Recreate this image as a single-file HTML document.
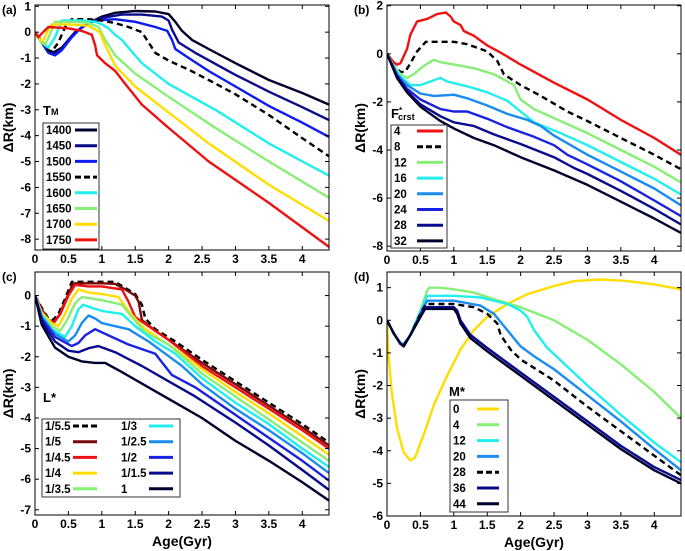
<!DOCTYPE html>
<html><head><meta charset="utf-8"><style>
body{margin:0;background:#fff;}
svg{display:block;font-family:"Liberation Sans",Arial,sans-serif;font-weight:bold;}
</style></head><body>
<svg id="fig" width="685" height="551" viewBox="0 0 685 551"></svg>
<script>
// ---------- Panel (a): T_M ----------
const aLabels = ["1400","1450","1500","1550","1600","1650","1700","1750"];
const aColors = ["#00002e","#0a0a8c","#0a1cf0","#000","#22eeee","#88ee77","#ffdd00","#ee1111"];
const a1400 = [[0,0],[0.1,-0.35],[0.2,-0.7],[0.28,-0.78],[0.4,-0.6],[0.5,-0.3],[0.6,0],[0.8,0.35],[1.0,0.6],[1.2,0.75],[1.5,0.82],[1.8,0.8],[2.0,0.7],[2.1,0.4],[2.2,0.05],[2.35,-0.3],[2.6,-0.65],[3.0,-1.2],[3.5,-1.85],[4.0,-2.35],[4.4,-2.8]];
const a1450 = [[0,0],[0.1,-0.4],[0.2,-0.75],[0.28,-0.85],[0.4,-0.65],[0.5,-0.3],[0.6,0],[0.8,0.35],[1.0,0.55],[1.3,0.68],[1.6,0.68],[1.9,0.6],[2.0,0.45],[2.05,0.1],[2.15,-0.4],[2.4,-0.8],[3.0,-1.65],[3.5,-2.3],[4.0,-2.9],[4.4,-3.4]];
const a1500 = [[0,0],[0.1,-0.4],[0.2,-0.8],[0.3,-0.9],[0.4,-0.7],[0.55,-0.2],[0.7,0.2],[0.9,0.45],[1.2,0.5],[1.5,0.4],[1.8,0.2],[1.98,0.05],[2.05,-0.3],[2.1,-0.65],[2.3,-1.0],[2.6,-1.5],[3.0,-2.1],[3.5,-2.85],[4.0,-3.5],[4.4,-4.05]];
const a1550 = [[0,0],[0.1,-0.35],[0.2,-0.7],[0.25,-0.75],[0.35,-0.4],[0.45,0.2],[0.55,0.5],[0.8,0.5],[1.0,0.45],[1.2,0.35],[1.4,0.2],[1.6,0.0],[1.7,-0.4],[1.8,-0.8],[2.0,-1.1],[2.3,-1.45],[2.6,-1.85],[3.0,-2.4],[3.5,-3.2],[4.0,-4.1],[4.4,-4.8]];
const a1600 = [[0,0],[0.1,-0.4],[0.2,-0.6],[0.3,-0.2],[0.4,0.45],[0.7,0.45],[0.9,0.4],[1.0,0.3],[1.1,0.15],[1.2,-0.1],[1.3,-0.3],[1.4,-0.6],[1.6,-1.2],[2.0,-2.0],[2.7,-3.0],[3.5,-4.3],[4.4,-5.55]];
const a1650 = [[0,0],[0.08,-0.35],[0.15,-0.5],[0.22,-0.1],[0.3,0.4],[0.6,0.4],[0.8,0.35],[0.95,0.2],[1.05,-0.3],[1.2,-0.9],[1.5,-1.6],[2.0,-2.5],[2.7,-3.7],[3.5,-5.0],[4.4,-6.4]];
const a1700 = [[0,0],[0.06,-0.25],[0.12,-0.35],[0.18,0.0],[0.25,0.3],[0.5,0.3],[0.8,0.25],[0.97,0.0],[1.05,-0.5],[1.2,-1.3],[1.5,-2.1],[2.0,-3.1],[2.6,-4.3],[3.5,-5.9],[4.4,-7.3]];
const a1750 = [[0,0],[0.05,-0.2],[0.1,-0.05],[0.2,0.2],[0.5,0.15],[0.7,0.05],[0.85,-0.1],[0.9,-0.5],[0.93,-0.9],[1.05,-1.2],[1.2,-1.5],[1.35,-2.0],[1.6,-2.8],[2.0,-3.7],[2.6,-5.0],[3.5,-6.6],[4.4,-8.3]];
const aSeries = [a1400,a1450,a1500,a1550,a1600,a1650,a1700,a1750];

// ---------- Panel (b): F*crst ----------
const bLabels = ["4","8","12","16","20","24","28","32"];
const bColors = ["#ee1111","#000","#88ee77","#22eeee","#1a8cf0","#1a22e0","#0a0a8c","#00002e"];
const b4 = [[0,0],[0.1,-0.35],[0.15,-0.45],[0.2,-0.4],[0.3,0.2],[0.35,0.8],[0.45,1.35],[0.6,1.45],[0.75,1.65],[0.88,1.72],[0.95,1.55],[1.0,1.35],[1.1,1.2],[1.15,0.95],[1.3,0.75],[1.5,0.35],[1.7,0.05],[2.0,-0.45],[2.5,-1.2],[3.0,-1.9],[3.5,-2.75],[4.0,-3.5],[4.4,-4.2]];
const b8 = [[0,0],[0.1,-0.5],[0.2,-0.75],[0.27,-0.75],[0.35,-0.4],[0.45,0.1],[0.58,0.5],[0.8,0.5],[1.0,0.5],[1.2,0.4],[1.5,0.1],[1.65,-0.3],[1.75,-0.85],[2.0,-1.3],[2.3,-1.75],[2.7,-2.4],[3.0,-2.8],[3.5,-3.5],[4.0,-4.2],[4.4,-4.8]];
const b12 = [[0,0],[0.1,-0.5],[0.2,-0.85],[0.3,-1.0],[0.4,-0.85],[0.55,-0.5],[0.7,-0.25],[0.8,-0.35],[1.0,-0.45],[1.3,-0.6],[1.6,-0.85],[1.9,-1.3],[2.0,-1.9],[2.2,-2.3],[2.6,-2.8],[3.0,-3.3],[3.5,-4.0],[4.0,-4.7],[4.4,-5.35]];
const b16 = [[0,0],[0.1,-0.55],[0.2,-0.95],[0.35,-1.3],[0.5,-1.3],[0.65,-1.15],[0.8,-1.0],[0.9,-1.15],[1.2,-1.35],[1.5,-1.6],[1.8,-1.95],[2.0,-2.4],[2.2,-2.85],[2.6,-3.3],[3.0,-3.8],[3.5,-4.5],[4.0,-5.2],[4.4,-5.85]];
const b20 = [[0,0],[0.15,-0.85],[0.3,-1.3],[0.5,-1.65],[0.7,-1.75],[0.9,-1.72],[1.0,-1.7],[1.2,-1.85],[1.5,-2.15],[1.8,-2.5],[2.1,-2.75],[2.3,-3.0],[2.5,-3.4],[3.0,-4.2],[3.5,-4.9],[4.0,-5.6],[4.4,-6.3]];
const b24 = [[0,0],[0.15,-0.9],[0.3,-1.45],[0.5,-1.9],[0.8,-2.3],[1.0,-2.4],[1.2,-2.4],[1.5,-2.7],[1.8,-3.05],[2.2,-3.45],[2.5,-3.8],[2.7,-4.2],[3.0,-4.6],[3.5,-5.3],[4.0,-6.1],[4.4,-6.75]];
const b28 = [[0,0],[0.15,-0.95],[0.3,-1.55],[0.5,-2.1],[0.8,-2.6],[1.0,-2.85],[1.3,-3.0],[1.6,-3.35],[2.0,-3.75],[2.5,-4.3],[2.8,-4.75],[3.0,-5.0],[3.5,-5.7],[4.0,-6.45],[4.4,-7.1]];
const b32 = [[0,0],[0.15,-1.0],[0.3,-1.6],[0.5,-2.2],[0.8,-2.8],[1.0,-3.1],[1.3,-3.5],[1.6,-3.8],[2.0,-4.3],[2.5,-4.85],[3.0,-5.45],[3.5,-6.15],[4.0,-6.85],[4.4,-7.45]];
const bSeries = [b4,b8,b12,b16,b20,b24,b28,b32];

// ---------- Panel (c): L* ----------
const cLabels = ["1/5.5","1/5","1/4.5","1/4","1/3.5","1/3","1/2.5","1/2","1/1.5","1"];
const cColors = ["#000","#7a0a0a","#ee1111","#ffdd00","#88ee77","#22eeee","#1a8cf0","#1a22e0","#0a0a8c","#00002e"];
const c1 = [[0,0],[0.1,-0.4],[0.2,-0.75],[0.27,-0.8],[0.35,-0.6],[0.45,-0.1],[0.55,0.45],[0.8,0.45],[1.0,0.45],[1.2,0.45],[1.35,0.25],[1.5,0.05],[1.6,-0.3],[1.65,-0.75],[1.8,-1.1],[2.1,-1.5],[2.5,-2.1],[3.0,-2.8],[3.5,-3.5],[4.0,-4.2],[4.4,-4.8]];
const c2 = [[0,0],[0.1,-0.45],[0.2,-0.8],[0.28,-0.85],[0.36,-0.65],[0.46,-0.15],[0.57,0.4],[0.8,0.4],[1.0,0.4],[1.2,0.38],[1.35,0.2],[1.5,0.0],[1.55,-0.2],[1.6,-0.8],[1.8,-1.15],[2.1,-1.6],[2.5,-2.2],[3.0,-2.9],[3.5,-3.6],[4.0,-4.3],[4.4,-4.9]];
const c3 = [[0,0],[0.1,-0.5],[0.2,-0.8],[0.28,-0.9],[0.38,-0.6],[0.5,0.0],[0.6,0.35],[0.8,0.3],[1.0,0.3],[1.3,0.2],[1.4,-0.2],[1.5,-0.7],[1.7,-1.0],[2.0,-1.45],[2.5,-2.3],[3.0,-3.0],[3.5,-3.7],[4.0,-4.4],[4.4,-5.0]];
const c4 = [[0,0],[0.1,-0.55],[0.25,-0.9],[0.35,-1.0],[0.45,-0.6],[0.55,-0.1],[0.65,0.2],[0.8,0.1],[1.0,0.05],[1.25,-0.05],[1.4,-0.5],[1.6,-1.0],[1.85,-1.4],[2.1,-1.75],[2.5,-2.4],[3.0,-3.15],[3.5,-3.85],[4.0,-4.6],[4.4,-5.2]];
const c5 = [[0,0],[0.1,-0.6],[0.25,-1.0],[0.38,-1.15],[0.48,-0.8],[0.6,-0.25],[0.7,-0.05],[0.85,-0.1],[1.0,-0.15],[1.3,-0.3],[1.45,-0.7],[1.65,-1.2],[2.0,-1.6],[2.5,-2.55],[3.0,-3.3],[3.5,-4.05],[4.0,-4.8],[4.4,-5.4]];
const c6 = [[0,0],[0.1,-0.65],[0.25,-1.1],[0.45,-1.35],[0.55,-1.0],[0.65,-0.45],[0.72,-0.3],[0.85,-0.4],[1.0,-0.5],[1.3,-0.6],[1.5,-1.0],[1.8,-1.5],[2.1,-1.9],[2.5,-2.7],[3.0,-3.5],[3.5,-4.2],[4.0,-5.0],[4.4,-5.6]];
const c7 = [[0,0],[0.1,-0.7],[0.3,-1.25],[0.5,-1.5],[0.6,-1.3],[0.7,-0.9],[0.8,-0.65],[0.9,-0.75],[1.0,-0.9],[1.4,-1.1],[1.7,-1.5],[1.95,-1.9],[2.2,-2.3],[2.5,-2.9],[3.0,-3.7],[3.5,-4.4],[4.0,-5.15],[4.4,-5.8]];
const c8 = [[0,0],[0.1,-0.75],[0.3,-1.35],[0.55,-1.65],[0.65,-1.55],[0.75,-1.3],[0.9,-1.1],[1.1,-1.3],[1.4,-1.6],[1.8,-1.9],[2.05,-2.6],[2.4,-3.0],[3.0,-3.9],[3.5,-4.65],[4.0,-5.4],[4.4,-6.05]];
const c9 = [[0,0],[0.1,-0.85],[0.3,-1.5],[0.5,-1.8],[0.65,-1.85],[0.8,-1.72],[0.95,-1.65],[1.2,-1.85],[1.6,-2.3],[2.0,-2.8],[2.4,-3.3],[3.0,-4.15],[3.5,-4.9],[4.0,-5.7],[4.4,-6.35]];
const c10 = [[0,0],[0.1,-0.95],[0.3,-1.7],[0.5,-2.0],[0.7,-2.15],[0.9,-2.2],[1.05,-2.2],[1.3,-2.5],[1.7,-3.0],[2.1,-3.5],[2.5,-4.0],[3.0,-4.75],[3.5,-5.4],[4.0,-6.1],[4.4,-6.7]];
const cSeries = [c1,c2,c3,c4,c5,c6,c7,c8,c9,c10];

// ---------- Panel (d): M* ----------
const dLabels = ["0","4","12","20","28","36","44"];
const dColors = ["#ffdd00","#88ee77","#22eeee","#1a8cf0","#000","#0a0a8c","#00002e"];
const d0 = [[0,0],[0.02,-1.0],[0.07,-2.2],[0.15,-3.3],[0.25,-4.05],[0.35,-4.3],[0.42,-4.2],[0.55,-3.5],[0.7,-2.6],[0.9,-1.7],[1.1,-0.9],[1.3,-0.3],[1.5,0.1],[1.8,0.5],[2.1,0.8],[2.5,1.05],[2.8,1.2],[3.2,1.25],[3.6,1.2],[4.0,1.1],[4.4,0.95]];
const d4 = [[0,0],[0.1,-0.4],[0.2,-0.7],[0.25,-0.72],[0.35,-0.45],[0.5,0.3],[0.6,0.9],[0.63,1.0],[0.8,1.0],[1.0,0.95],[1.3,0.85],[1.6,0.65],[2.0,0.4],[2.5,0.0],[3.0,-0.6],[3.5,-1.35],[4.0,-2.2],[4.4,-3.0]];
const d12 = [[0,0],[0.1,-0.4],[0.2,-0.7],[0.25,-0.74],[0.35,-0.45],[0.5,0.25],[0.6,0.75],[1.0,0.75],[1.4,0.7],[1.8,0.5],[2.0,0.3],[2.1,0.1],[2.2,-0.3],[2.4,-0.85],[3.0,-2.0],[3.5,-2.9],[4.0,-3.75],[4.4,-4.35]];
const d20 = [[0,0],[0.1,-0.4],[0.2,-0.7],[0.25,-0.75],[0.35,-0.45],[0.5,0.2],[0.6,0.6],[1.0,0.6],[1.4,0.45],[1.6,0.2],[1.8,-0.3],[2.0,-0.8],[2.2,-1.1],[2.5,-1.5],[3.0,-2.3],[3.5,-3.1],[4.0,-3.95],[4.4,-4.6]];
const d28 = [[0,0],[0.1,-0.4],[0.2,-0.72],[0.25,-0.76],[0.35,-0.45],[0.5,0.2],[0.58,0.5],[1.0,0.5],[1.3,0.4],[1.5,0.2],[1.65,-0.1],[1.7,-0.45],[1.85,-0.9],[2.0,-1.2],[2.5,-1.85],[3.0,-2.65],[3.5,-3.4],[4.0,-4.15],[4.4,-4.75]];
const d36 = [[0,0],[0.1,-0.4],[0.2,-0.72],[0.25,-0.78],[0.35,-0.45],[0.5,0.15],[0.57,0.4],[1.0,0.4],[1.05,0.3],[1.1,0.0],[1.25,-0.45],[1.5,-0.85],[2.0,-1.6],[2.5,-2.35],[3.0,-3.1],[3.5,-3.85],[4.0,-4.5],[4.4,-4.9]];
const d44 = [[0,0],[0.1,-0.4],[0.2,-0.72],[0.25,-0.8],[0.35,-0.45],[0.5,0.1],[0.57,0.35],[1.0,0.35],[1.05,0.2],[1.1,-0.1],[1.25,-0.55],[1.5,-0.95],[2.0,-1.7],[2.5,-2.45],[3.0,-3.2],[3.5,-3.95],[4.0,-4.6],[4.4,-5.0]];
const dSeries = [d0,d4,d12,d20,d28,d36,d44];

const xTicks = [0,0.5,1,1.5,2,2.5,3,3.5,4];
const aYTicks = [1,0,-1,-2,-3,-4,-5,-6,-7,-8];
const bYTicks = [2,0,-2,-4,-6,-8];
const cYTicks = [0,-1,-2,-3,-4,-5,-6,-7];
const dYTicks = [1,0,-1,-2,-3,-4,-5,-6];

const NS = "http://www.w3.org/2000/svg";
const svg = document.getElementById('fig');
function mk(tag, attrs, parent){ const e=document.createElementNS(NS,tag); for(const k in attrs) e.setAttribute(k,attrs[k]); (parent||svg).appendChild(e); return e; }

function panel(cfg){
  const g = mk('g',{});
  
  
  const {L,T,R,B,y0,y1} = cfg;
  const sx = v => L + (v-0)/(4.4-0)*(R-L);
  const sy = v => B - (v-y0)/(y1-y0)*(B-T);
  const clipId='clip'+cfg.id;
  const cp = mk('clipPath',{id:clipId},g); mk('rect',{x:L,y:T,width:R-L,height:B-T},cp);
  cfg.series.forEach((s,i)=>{
    const d = s.map((p,j)=>(j?'L':'M')+sx(p[0]).toFixed(1)+','+sy(p[1]).toFixed(1)).join('');
    const dashed = cfg.colors[i]==="#000";
    const p = mk('path',{d:d,fill:'none',stroke:cfg.colors[i],'stroke-width':2.4,'stroke-linejoin':'round','clip-path':'url(#'+clipId+')','stroke-dasharray':dashed?'6,4':'none'},g);
    
    
  });
  const fr = mk('rect',{x:L,y:T,width:R-L,height:B-T,fill:'none',stroke:'#000','stroke-width':1},g);
  
  
  xTicks.forEach(v=>{
    const x=sx(v);
    mk('line',{x1:x,y1:B,x2:x,y2:B-4,stroke:'#000'},g);
    mk('line',{x1:x,y1:T,x2:x,y2:T+4,stroke:'#000'},g);
    const t = mk('text',{x:x,y:B+13,'text-anchor':'middle','font-size':12},g);
    t.textContent=String(v);
    
    
  });
  cfg.yTicks.forEach(v=>{
    const y=sy(v);
    mk('line',{x1:L,y1:y,x2:L+4,y2:y,stroke:'#000'},g);
    mk('line',{x1:R,y1:y,x2:R-4,y2:y,stroke:'#000'},g);
    const t = mk('text',{x:L-4,y:y+4,'text-anchor':'end','font-size':12},g);
    t.textContent=String(v);
    
    
  });
  const pl = mk('text',{x:L-33,y:T+9,'font-size':12},g); pl.textContent='('+cfg.id+')';
  
  
  const yl = mk('text',{x:0,y:0,'font-size':14,'text-anchor':'middle',transform:'translate('+(L-22)+','+((T+B)/2)+') rotate(-90)'},g);
  yl.textContent='ΔR(km)';
  
  
  if(cfg.xlabel){
    const xl = mk('text',{x:(L+R)/2,y:B+31,'font-size':14,'text-anchor':'middle'},g);
    xl.textContent='Age(Gyr)';
    
    
  }
  const lg = mk('g',{},g);
  
  
  const Lg=cfg.legend;
  mk('rect',{x:Lg.x,y:Lg.y,width:Lg.w,height:Lg.h,fill:'#fff',stroke:'#333','stroke-width':1},lg);
  cfg.labels.forEach((lab,i)=>{
    const col = Lg.cols ? Math.floor(i/Lg.rows) : 0;
    const row = Lg.cols ? i%Lg.rows : i;
    const ox = Lg.x + col*(Lg.colW||0);
    const y = Lg.y0 + row*Lg.dy;
    const t = mk('text',{x:ox+3,y:y+4,'font-size':11.5},lg); t.textContent=lab;
    
    
    const dashed = cfg.colors[i]==="#000";
    mk('line',{x1:ox+Lg.lx1,y1:y,x2:ox+Lg.lx2,y2:y,stroke:cfg.colors[i],'stroke-width':3,'stroke-dasharray':dashed?'6,3':'none'},lg);
  });
  return g;
}

panel({id:'a',L:35,T:5,R:329,B:250,y0:-8.42,y1:1.05,series:aSeries,colors:aColors,labels:aLabels,yTicks:aYTicks,
  legend:{x:43,y:123,w:56,h:126,y0:130,dy:15.7,lx1:32,lx2:54}});
panel({id:'b',L:387,T:5,R:681,B:251,y0:-8.2,y1:2.03,series:bSeries,colors:bColors,labels:bLabels,yTicks:bYTicks,
  legend:{x:391,y:125,w:56,h:123,y0:131,dy:15.7,lx1:26,lx2:52}});
panel({id:'c',L:35,T:272,R:329,B:515,y0:-7.17,y1:0.77,series:cSeries,colors:cColors,labels:cLabels,yTicks:cYTicks,xlabel:true,
  legend:{x:42,y:419,w:138,h:78,y0:426,dy:15.7,cols:2,rows:5,colW:76,lx1:31,lx2:55}});
panel({id:'d',L:387,T:272,R:681,B:516,y0:-6,y1:1.48,series:dSeries,colors:dColors,labels:dLabels,yTicks:dYTicks,xlabel:true,
  legend:{x:450,y:400,w:58,h:112,y0:409,dy:15.8,lx1:27,lx2:49}});

const tA = mk('text',{x:43,y:115,'font-size':13}); tA.innerHTML='T<tspan font-size="9">M</tspan>';


const tB = mk('text',{x:391,y:118,'font-size':13}); tB.innerHTML='F<tspan font-size="8" dy="-5">*</tspan><tspan font-size="9" dy="7" dx="-4">crst</tspan>';


const tC = mk('text',{x:43,y:402,'font-size':13}); tC.textContent='L*';


const tD = mk('text',{x:449,y:396,'font-size':13}); tD.textContent='M*';


</script>
</body></html>
